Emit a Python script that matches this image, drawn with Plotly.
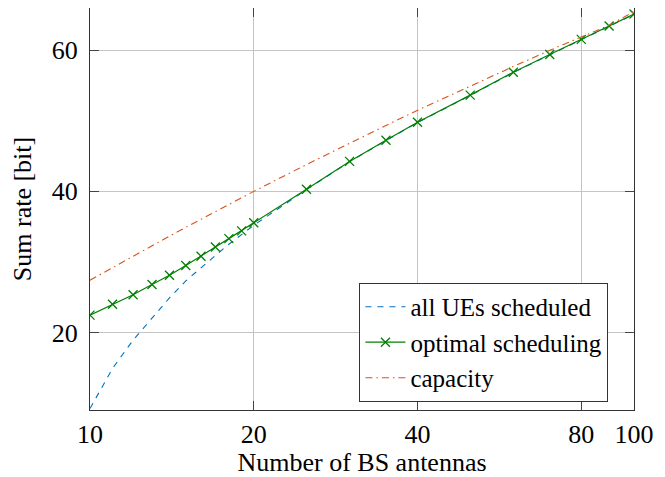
import plotly.graph_objects as go

# Data
antennas = [10, 11, 12, 13, 14, 15, 16, 17, 18, 19, 20, 25, 30, 35, 40, 50, 60, 70, 80, 90, 100]
all_ues = [9.2, 14.9, 18.9, 22.1, 24.9, 27.3, 29.2, 30.9, 32.5, 33.9, 35.2,
           40.25, 44.2, 47.2, 49.75, 53.6, 56.85, 59.35, 61.5, 63.4, 65.1]
optimal = [22.45, 24.0, 25.35, 26.8, 28.1, 29.5, 30.8, 32.1, 33.3, 34.4, 35.55,
           40.3, 44.25, 47.25, 49.8, 53.65, 56.9, 59.4, 61.55, 63.45, 65.15]
capacity = [27.4, 29.2, 30.8, 32.3, 33.65, 34.9, 36.05, 37.15, 38.15, 39.1, 40.0,
            43.8, 46.85, 49.35, 51.5, 54.95, 57.7, 60.0, 61.9, 63.55, 65.5]

x_ticks = [10, 20, 40, 80, 100]
x_tick_labels = ["10", "20", "40", "80", "100"]
y_ticks = [20, 40, 60]

FONT = "Liberation Serif, DejaVu Serif, Times New Roman, serif"
FS = 26
BLUE = "rgb(0,114,189)"
GREEN = "rgb(0,128,0)"
ORANGE = "rgb(217,83,25)"

fig = go.Figure()
fig.add_trace(go.Scatter(x=antennas, y=all_ues, mode="lines", name="all UEs scheduled",
                         line=dict(color=BLUE, width=1.1, dash="6px,6px")))
fig.add_trace(go.Scatter(x=antennas, y=optimal, mode="lines+markers", name="optimal scheduling",
                         line=dict(color=GREEN, width=1.2),
                         marker=dict(symbol="x-thin", size=9, color=GREEN,
                                     line=dict(color=GREEN, width=1.3))))
fig.add_trace(go.Scatter(x=antennas, y=capacity, mode="lines", name="capacity",
                         line=dict(color=ORANGE, width=1.1, dash="7px,4px,1.5px,4px")))

axis_common = dict(showline=True, linecolor="#333333", linewidth=1.2, mirror="allticks",
                   ticks="inside", ticklen=9, tickcolor="#444444", tickwidth=1,
                   showgrid=True, gridcolor="#c4c4c4", gridwidth=1, zeroline=False,
                   automargin=False,
                   tickfont=dict(family=FONT, size=FS, color="black"))

fig.update_xaxes(type="log", range=[1, 2], tickvals=x_ticks, ticktext=x_tick_labels,
                 title=dict(text="Number of BS antennas", font=dict(family=FONT, size=FS, color="black"),
                            standoff=3),
                 ticklabelstandoff=1, **axis_common)
fig.update_yaxes(range=[9.0, 66.0], tickvals=y_ticks,
                 title=dict(text="Sum rate [bit]", font=dict(family=FONT, size=FS, color="black"),
                            standoff=12),
                 ticklabelstandoff=6, **axis_common)

# page body has an 8px margin, so the figure is 8px smaller than the window
fig.update_layout(
    width=657, height=469,
    margin=dict(l=82, r=31, t=0, b=67),
    plot_bgcolor="white", paper_bgcolor="white",
    font=dict(family=FONT, size=FS, color="black"),
    legend=dict(x=0.953, y=0.02, xanchor="right", yanchor="bottom",
                bgcolor="white", bordercolor="#333333", borderwidth=1,
                font=dict(family=FONT, size=25, color="black"),
                itemwidth=40, tracegroupgap=0),
    showlegend=True,
)

fig.write_html("out.html")
